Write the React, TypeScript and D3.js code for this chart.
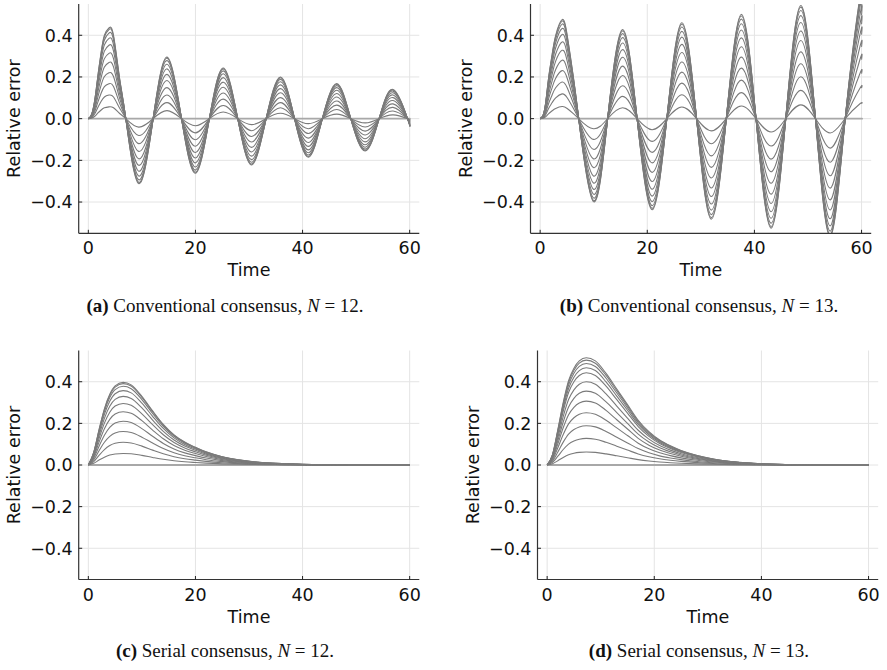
import React from "react";
import * as d3 from "d3";

// (a) conventional consensus, N = 12 : key points of the outermost curve
const timeA = [0, 0.6, 1.2, 1.75, 2.4, 3.0, 3.85, 4.7, 5.8, 7.0, 9.4, 12.1, 14.7, 17.4, 20.0, 22.6, 25.2, 27.9, 30.5, 33.2, 35.9, 38.5, 41.1, 43.7, 46.4, 49.0, 51.7, 54.3, 56.9, 59.6, 60];
const outerA = [0, 0.02, 0.09, 0.2, 0.32, 0.4, 0.435, 0.4, 0.2, 0, -0.311, 0, 0.295, 0, -0.262, 0, 0.243, 0, -0.222, 0, 0.2, 0, -0.185, 0, 0.168, 0, -0.155, 0, 0.14, 0, -0.034];
// relative level of each node's curve (first one stays at zero)
const levelsA = [0, 0.13, 0.26, 0.385, 0.505, 0.62, 0.72, 0.81, 0.885, 0.943, 0.982, 1];

// (b) conventional consensus, N = 13
const timeB = [0, 0.6, 1.1, 1.6, 2.25, 2.9, 4.1, 5.05, 6.2, 7.2, 9.95, 12.6, 15.4, 18.1, 20.9, 23.65, 26.45, 29.2, 31.95, 34.75, 37.55, 40.3, 43.1, 45.85, 48.65, 51.4, 54.15, 56.95, 59.7, 60];
const outerB = [0, 0.02, 0.09, 0.2, 0.31, 0.4, 0.475, 0.4, 0.2, 0, -0.398, 0, 0.427, 0, -0.437, 0, 0.46, 0, -0.482, 0, 0.5, 0, -0.525, 0, 0.543, 0, -0.565, 0, 0.585, 0.584];
const levelsB = [0, 0.122, 0.25, 0.37, 0.485, 0.59, 0.69, 0.775, 0.85, 0.91, 0.955, 0.985, 1];

// (c) serial consensus, N = 12
const timeC = [0, 1, 2, 3, 4, 5, 6.5, 8, 10, 12, 14, 16, 18, 20, 22, 25, 28, 31, 35, 40, 45, 50, 60];
const outerC = [0, 0.06, 0.17, 0.27, 0.34, 0.38, 0.397, 0.385, 0.33, 0.26, 0.195, 0.145, 0.11, 0.085, 0.063, 0.04, 0.025, 0.015, 0.008, 0.003, 0.001, 0, 0];
const levelsC = [0, 0.14, 0.275, 0.405, 0.53, 0.645, 0.745, 0.83, 0.9, 0.952, 0.985, 1];

// (d) serial consensus, N = 13
const timeD = [0, 1, 2, 3, 4, 5, 6, 7.3, 9, 11, 13, 15, 17, 19, 21, 23, 25, 28, 31, 35, 40, 45, 50, 60];
const outerD = [0, 0.05, 0.17, 0.3, 0.405, 0.465, 0.5, 0.515, 0.5, 0.44, 0.365, 0.29, 0.215, 0.16, 0.12, 0.092, 0.07, 0.046, 0.029, 0.015, 0.006, 0.002, 0, 0];
const levelsD = [0, 0.121, 0.248, 0.366, 0.488, 0.596, 0.689, 0.776, 0.86, 0.907, 0.947, 0.978, 1];

const xTicks = [0, 20, 40, 60];
const yTicks = [-0.4, -0.2, 0, 0.2, 0.4];

const SANS = "DejaVu Sans, sans-serif";
const SERIF = "Liberation Serif, Times New Roman, serif";

type PanelProps = {
  id: string;
  time: number[];
  outer: number[];
  levels: number[];
  left: number;
  right: number;
  top: number;
  bottom: number;
  smooth: d3.CurveFactory;
  label: string;
  title: string;
  n: number;
  capX: number;
  capY: number;
};

const fmt = (v: number) => d3.format(".1f")(v).replace("-", "\u2212");

function Panel(p: PanelProps) {
  const x = d3.scaleLinear().domain([-1.8, 61.8]).range([p.left, p.right]);
  const y = d3.scaleLinear().domain([-0.55, 0.55]).range([p.bottom, p.top]);
  const line = d3
    .line<[number, number]>()
    .x((d) => x(d[0]))
    .y((d) => y(d[1]))
    .curve(p.smooth);

  const series = p.levels.map((lv) =>
    p.time.map((t, i) => [t, p.outer[i] * lv] as [number, number])
  );
  const clipId = `clip-${p.id}`;

  return (
    <g>
      <defs>
        <clipPath id={clipId}>
          <rect x={p.left} y={p.top} width={p.right - p.left} height={p.bottom - p.top} />
        </clipPath>
      </defs>
      {/* grid */}
      {xTicks.map((t) => (
        <line key={"gx" + t} x1={x(t)} x2={x(t)} y1={p.top} y2={p.bottom} stroke="#e4e4e4" strokeWidth={1} />
      ))}
      {yTicks.map((t) => (
        <line key={"gy" + t} x1={p.left} x2={p.right} y1={y(t)} y2={y(t)} stroke="#e4e4e4" strokeWidth={1} />
      ))}
      {/* curves */}
      <g clipPath={`url(#${clipId})`}>
        {series.map((s, i) => (
          <path
            key={i}
            d={line(s) || ""}
            fill="none"
            stroke={i === 0 ? "#a8a8a8" : "#7a7a7a"}
            strokeWidth={i === 0 ? 1.8 : 1.1}
          />
        ))}
      </g>
      {/* axes */}
      <line x1={p.left} x2={p.left} y1={p.top} y2={p.bottom} stroke="#333" strokeWidth={1.2} />
      <line x1={p.left} x2={p.right} y1={p.bottom} y2={p.bottom} stroke="#333" strokeWidth={1.2} />
      {xTicks.map((t) => (
        <g key={"tx" + t}>
          <line x1={x(t)} x2={x(t)} y1={p.bottom} y2={p.bottom - 3.5} stroke="#222" strokeWidth={1} />
          <text x={x(t)} y={p.bottom + 21} textAnchor="middle" fontFamily={SANS} fontSize={17.5} fill="#111">
            {t}
          </text>
        </g>
      ))}
      {yTicks.map((t) => (
        <g key={"ty" + t}>
          <line x1={p.left} x2={p.left + 3.5} y1={y(t)} y2={y(t)} stroke="#222" strokeWidth={1} />
          <text x={p.left - 6} y={y(t)} dy="0.36em" textAnchor="end" fontFamily={SANS} fontSize={17.5} fill="#111">
            {fmt(t)}
          </text>
        </g>
      ))}
      <text
        x={(x(0) + x(60)) / 2}
        y={p.bottom + 43}
        textAnchor="middle"
        fontFamily={SANS}
        fontSize={17.5}
        fill="#111"
      >
        Time
      </text>
      <text
        transform={`translate(${p.left - 65},${(p.top + p.bottom) / 2}) rotate(-90)`}
        textAnchor="middle"
        dy="0.36em"
        fontFamily={SANS}
        fontSize={17.5}
        fill="#111"
      >
        Relative error
      </text>
      <text x={p.capX} y={p.capY} textAnchor="middle" fontFamily={SERIF} fontSize={19} fill="#111">
        <tspan fontWeight="bold">({p.label})</tspan>
        <tspan>{` ${p.title}, `}</tspan>
        <tspan fontStyle="italic">N</tspan>
        <tspan>{` = ${p.n}.`}</tspan>
      </text>
    </g>
  );
}

export default function App() {
  return (
    <svg
      width={887}
      height={670}
      style={{ position: "absolute", left: 0, top: 0, background: "#fff" }}
    >
      <rect width={887} height={670} fill="#fff" />
      <Panel id="a" time={timeA} outer={outerA} levels={levelsA} left={78.7} right={419.3} top={4} bottom={233.3}
        smooth={d3.curveNatural} label="a" title="Conventional consensus" n={12} capX={225} capY={312} />
      <Panel id="b" time={timeB} outer={outerB} levels={levelsB} left={530.5} right={871.2} top={4} bottom={233.3}
        smooth={d3.curveNatural} label="b" title="Conventional consensus" n={13} capX={699} capY={312} />
      <Panel id="c" time={timeC} outer={outerC} levels={levelsC} left={78.7} right={419.3} top={350.5} bottom={579.5}
        smooth={d3.curveMonotoneX} label="c" title="Serial consensus" n={12} capX={225} capY={657} />
      <Panel id="d" time={timeD} outer={outerD} levels={levelsD} left={537.5} right={878.2} top={350.5} bottom={579.5}
        smooth={d3.curveMonotoneX} label="d" title="Serial consensus" n={13} capX={699} capY={657} />
    </svg>
  );
}
